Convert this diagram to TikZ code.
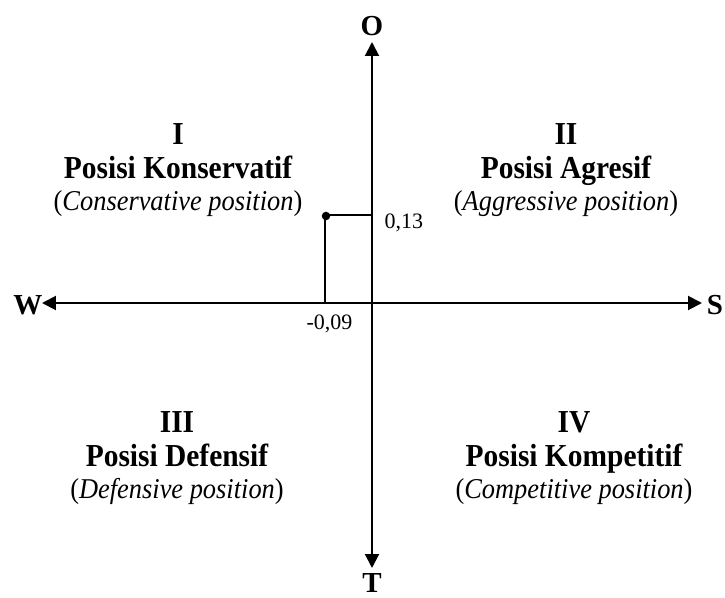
\documentclass[tikz,border=0pt]{standalone}
\usepackage{fontspec}
\setmainfont{Liberation Serif}
\newfontfamily\narrowserif{Liberation Serif}[FakeStretch=0.92]
\usetikzlibrary{arrows.meta, positioning}
\tikzset{
    % Axis style
    axis/.style={
        line width=2pt,
        {Triangle[length=14pt,width=14pt]}-{Triangle[length=14pt,width=14pt]}
    },
    axislabel/.style={
        anchor=base,
        font=\fontsize{29}{31}\selectfont\bfseries
    },
    guide/.style={
        line width=1.6pt
    },
    % Quadrant texts
    quadnum/.style={
        anchor=base,
        font=\narrowserif\fontsize{32}{34}\selectfont\bfseries
    },
    quadname/.style={
        anchor=base,
        font=\narrowserif\fontsize{32}{34}\selectfont\bfseries
    },
    quadnote/.style={
        anchor=base,
        font=\narrowserif\fontsize{28.7}{31}\selectfont
    },
    value/.style={
        font=\fontsize{22}{24}\selectfont
    }
}

\begin{document}
\begin{tikzpicture}[x=1pt, y=1pt]
    \useasboundingbox (-372,-294) rectangle (353,303);

    % Axis labels
    \node[axislabel] (O) at (0,267) {O};
    \node[axislabel] (T) at (0,-289) {T};
    \node[axislabel] (W) at (-344,-11) {W};
    \node[axislabel] (S) at (343,-11) {S};

    % Axis tips
    \coordinate (oTip) at (0,261);
    \coordinate (tTip) at (0,-265);
    \coordinate (wTip) at (-330,0);
    \coordinate (sTip) at (330,0);

    % Axes
    \draw[axis] (tTip) -- (oTip);
    \draw[axis] (wTip) -- (sTip);

    % Position point
    \coordinate (px) at (-47,0);
    \coordinate (py) at (0,88);
    \coordinate (corner) at (-47,88);
    \draw[guide] (px) -- (corner) -- (py);
    \node[circle, fill, inner sep=0pt, minimum size=8.5pt] (pt) at (-46,87) {};
    \node[value, anchor=base west] (vy) at (9,74.5) {0,13};
    \node[value, anchor=base] (vx) at (-42.5,-26.5) {-0,09};

    % Quadrant I
    \node[quadnum] (q1) at (-194,158) {I};
    \node[quadname] (q1a) at (-194,124) {Posisi Konservatif};
    \node[quadnote] (q1b) at (-194,92) {(\textit{Conservative position})};

    % Quadrant II
    \node[quadnum] (q2) at (194,158) {II};
    \node[quadname] (q2a) at (194,124) {Posisi Agresif};
    \node[quadnote] (q2b) at (194,92) {(\textit{Aggressive position})};

    % Quadrant III
    \node[quadnum] (q3) at (-195,-129) {III};
    \node[quadname] (q3a) at (-195,-163.5) {Posisi Defensif};
    \node[quadnote] (q3b) at (-195,-195) {(\textit{Defensive position})};

    % Quadrant IV
    \node[quadnum] (q4) at (202,-129) {IV};
    \node[quadname] (q4a) at (202,-163.5) {Posisi Kompetitif};
    \node[quadnote] (q4b) at (202,-195) {(\textit{Competitive position})};
\end{tikzpicture}
\end{document}
